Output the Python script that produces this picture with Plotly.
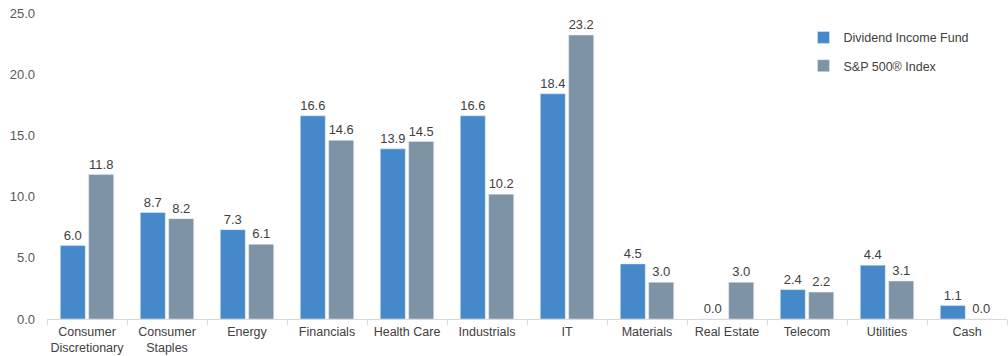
import plotly.graph_objects as go

categories = ["Consumer<br>Discretionary", "Consumer<br>Staples", "Energy", "Financials",
              "Health Care", "Industrials", "IT", "Materials", "Real Estate",
              "Telecom", "Utilities", "Cash"]
fund = [6.0, 8.7, 7.3, 16.6, 13.9, 16.6, 18.4, 4.5, 0.0, 2.4, 4.4, 1.1]
index = [11.8, 8.2, 6.1, 14.6, 14.5, 10.2, 23.2, 3.0, 3.0, 2.2, 3.1, 0.0]
y_ticks = [0, 5, 10, 15, 20, 25]

font = "Liberation Sans, Arial, sans-serif"
fig = go.Figure()
fig.add_trace(go.Bar(x=categories, y=fund, name="Dividend Income Fund",
                     marker_color="#4589CA", text=[f"{v:.1f}" for v in fund],
                     textposition="outside", textfont=dict(size=13, color="#404040"),
                     cliponaxis=False, legendgroup="a"))
fig.add_trace(go.Bar(x=categories, y=index, name="S&P 500® Index",
                     marker_color="#7F93A6", text=[f"{v:.1f}" for v in index],
                     textposition="outside", textfont=dict(size=13, color="#404040"),
                     cliponaxis=False, legendgroup="b"))
fig.update_layout(
    width=1008, height=356,
    margin=dict(l=47, r=1, t=13, b=37),
    paper_bgcolor="white", plot_bgcolor="white",
    font=dict(family=font, size=12, color="#595959"),
    barmode="group", bargap=0.29, bargroupgap=0.12,
    showlegend=True,
    legend=dict(x=0.788, y=0.968, xanchor="left", yanchor="top",
                font=dict(size=12.5, color="#404040"), tracegroupgap=9,
                traceorder="grouped", itemwidth=30, bgcolor="rgba(0,0,0,0)"),
    xaxis=dict(showline=True, linecolor="#D9D9D9", ticks="outside", tickson="boundaries",
               tickcolor="#D9D9D9", ticklen=5, tickangle=0, automargin=False,
               ticklabelstandoff=1,
               tickfont=dict(size=12.5, color="#404040"), showgrid=False),
    yaxis=dict(range=[0, 25], tickvals=y_ticks, ticktext=[f"{v:.1f}" for v in y_ticks],
               showgrid=False, zeroline=False, showline=False, automargin=False,
               tickfont=dict(size=13, color="#595959"), ticks="", ticklabelstandoff=11),
)
fig.write_html("out.html")
